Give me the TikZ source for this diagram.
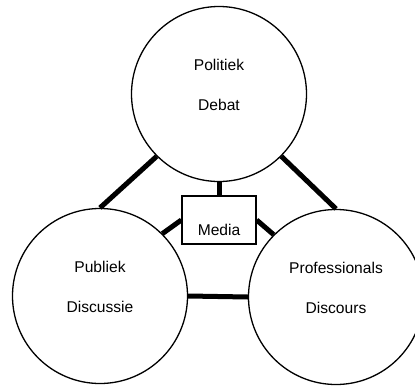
\documentclass[tikz,border=0pt]{standalone}
\usepackage{fontspec}
\setmainfont{Liberation Sans}
\usetikzlibrary{positioning,calc}

\begin{document}
\begin{tikzpicture}[x=1pt, y=-1pt,
	bol/.style={draw, circle, line width=1.3pt, minimum size=175pt, inner sep=0pt},
	doos/.style={draw, rectangle, line width=1.3pt, minimum width=74pt, minimum height=48pt, inner sep=0pt},
	tekst/.style={align=center, inner sep=0pt, font=\fontsize{15.6}{40}\selectfont},
	lijn/.style={line width=5pt}]
					\clip (0,0) rectangle (415,386);
					% cirkels en het kader in het midden
					\node[bol] (debat) at (219,94) {};
					\node[bol] (publiek) at (100,296) {};
					\node[bol] (prof) at (336,297) {};
					\node[doos] (media) at (219,220) {};
					\node[tekst] (debattxt) at ([yshift=9pt]debat.center) {Politiek\\Debat};
					\node[tekst] (publiektxt) at ([yshift=9pt]publiek.center) {Publiek\\Discussie};
					\node[tekst] (proftxt) at ([yshift=9pt]prof.center) {Professionals\\Discours};
					\node[tekst] (mediatxt) at ([yshift=-10pt]media.center) {Media};
					% verbindingen
					\draw[lijn] (debat) -- (media);
					\draw[lijn] (debat.225) -- (publiek.north);
					\draw[lijn] (debat.-45) -- (prof.north);
					\draw[lijn] (media.west) -- (publiek.45);
					\draw[lijn] (media.east) -- (prof.135);
					\draw[lijn] (publiek.east) -- (prof.west);
				\end{tikzpicture}
\end{document}
